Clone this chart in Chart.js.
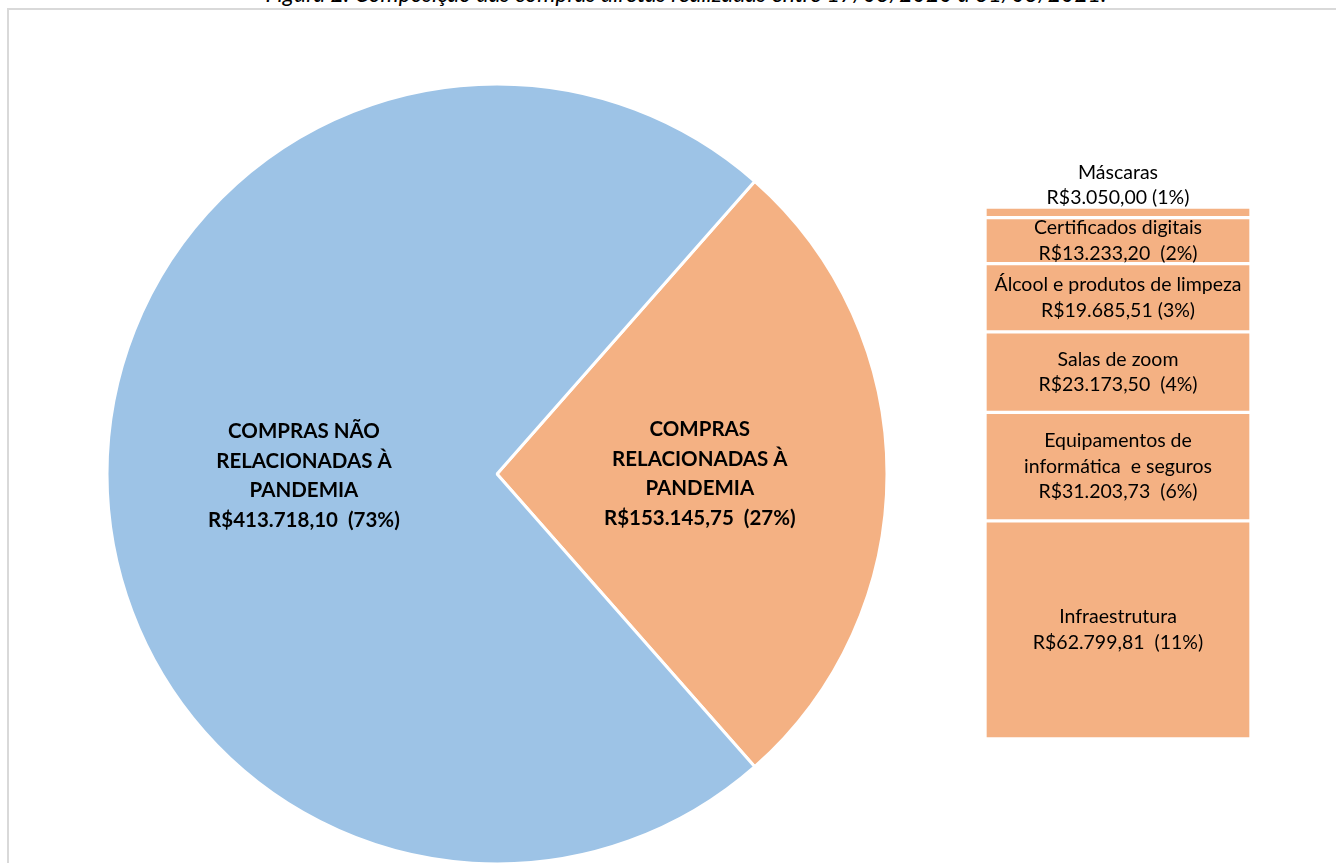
<!DOCTYPE html>
<html>
<head>
<meta charset="utf-8">
<script src="https://cdn.jsdelivr.net/npm/chart.js@4.4.1/dist/chart.umd.min.js"></script>
<style>
  html, body { margin:0; padding:0; width:1336px; height:863px; overflow:hidden; background:#fff; }
  #frame { position:absolute; left:7px; top:8px; width:1400px; height:900px; border-left:2px solid #d9d9d9; border-top:2px solid #d9d9d9; }
  #title { position:absolute; left:0; width:1372px; top:-19px; line-height:24px; text-align:center;
           font-family:Lato, "Open Sans", sans-serif; font-style:italic; font-size:23px; color:#000; white-space:nowrap; }
  canvas { position:absolute; }
  #pie { left:105px; top:82px; }
  #bar { left:960px; top:150px; }
</style>
</head>
<body>
<div id="frame"></div>
<div id="title">Figura 2. Composição das compras diretas realizadas entre 17/03/2020 a 31/03/2021.</div>
<canvas id="pie" width="784" height="784"></canvas>
<canvas id="bar" width="316" height="599"></canvas>
<script>
// ---- Data ----
const pieLabels = [["COMPRAS", "RELACIONADAS À", "PANDEMIA"], ["COMPRAS NÃO", "RELACIONADAS À", "PANDEMIA"]];
const pieValues = [153145.75, 413718.10];
const pieColors = ["#F4B183", "#9DC3E6"];

// bottom to top in the stacked bar
const barLabels = [["Infraestrutura"], ["Equipamentos de", "informática  e seguros"], ["Salas de zoom"],
                   ["Álcool e produtos de limpeza"], ["Certificados digitais"], ["Máscaras"]];
const barValues = [62799.81, 31203.73, 23173.50, 19685.51, 13233.20, 3050.00];
const barSeparators = ["  ", "  ", "  ", " ", "  ", " "];
const barColor = "#F4B183";

const FONT = "Lato, 'Open Sans', sans-serif";
const grandTotal = pieValues.reduce((a, b) => a + b, 0);

function brl(v) {
  const fixed = v.toFixed(2);
  let [intPart, dec] = fixed.split(".");
  intPart = intPart.replace(/\B(?=(\d{3})+(?!\d))/g, ".");
  return "R$" + intPart + "," + dec;
}
function pct(v) { return Math.round(v / grandTotal * 100) + "%"; }

// ---- Pie ----
const pieLabelPlugin = {
  id: "pieLabels",
  afterDatasetsDraw(chart) {
    const ctx = chart.ctx;
    const meta = chart.getDatasetMeta(0);
    const ratios = [0.52, 0.495];
    const dy = [0, 2];
    ctx.save();
    ctx.fillStyle = "#000";
    ctx.font = "bold 20.5px " + FONT;
    ctx.textAlign = "center";
    ctx.textBaseline = "middle";
    meta.data.forEach((arc, i) => {
      const p = arc.getProps(["x", "y", "startAngle", "endAngle", "outerRadius"]);
      const mid = (p.startAngle + p.endAngle) / 2;
      const r = p.outerRadius * ratios[i];
      const cx = p.x + Math.cos(mid) * r;
      const cy = p.y + Math.sin(mid) * r + dy[i];
      const lines = pieLabels[i].concat([brl(pieValues[i]) + "  (" + pct(pieValues[i]) + ")"]);
      const lh = 29.5;
      const y0 = cy - (lines.length - 1) * lh / 2;
      lines.forEach((t, k) => ctx.fillText(t, cx, y0 + k * lh));
    });
    ctx.restore();
  }
};

new Chart(document.getElementById("pie"), {
  type: "pie",
  data: {
    labels: pieLabels.map(l => l.join(" ")),
    datasets: [{
      data: pieValues,
      backgroundColor: pieColors,
      borderColor: "#ffffff",
      borderWidth: 3,
      radius: 390
    }]
  },
  options: {
    responsive: false,
    animation: false,
    rotation: 90 - 180 * pieValues[0] / grandTotal,
    layout: { padding: 0 },
    plugins: { legend: { display: false }, tooltip: { enabled: false }, title: { display: false } }
  },
  plugins: [pieLabelPlugin]
});

// ---- Stacked bar ----
const barTotal = barValues.reduce((a, b) => a + b, 0);
const barLabelPlugin = {
  id: "barLabels",
  afterDatasetsDraw(chart) {
    const ctx = chart.ctx;
    ctx.save();
    ctx.fillStyle = "#000";
    ctx.font = "19.5px " + FONT;
    ctx.textAlign = "center";
    ctx.textBaseline = "middle";
    const lh = 25.5;
    barValues.forEach((v, i) => {
      const el = chart.getDatasetMeta(i).data[0];
      const lines = barLabels[i].concat([brl(v) + barSeparators[i] + "(" + pct(v) + ")"]);
      const cx = el.x;
      let y0;
      if (i === barValues.length - 1) {
        // smallest slice: label above the bar
        y0 = el.y - 9 - (lines.length - 1) * lh;
      } else {
        const cy = (el.y + el.base) / 2;
        y0 = cy - (lines.length - 1) * lh / 2;
      }
      lines.forEach((t, k) => ctx.fillText(t, cx, y0 + k * lh));
    });
    ctx.restore();
  }
};

new Chart(document.getElementById("bar"), {
  type: "bar",
  data: {
    labels: [""],
    datasets: barValues.map((v, i) => ({
      label: barLabels[i].join(" "),
      data: [v],
      backgroundColor: barColor,
      borderColor: "#ffffff",
      borderWidth: 2,
      borderSkipped: false,
      barPercentage: 1,
      categoryPercentage: 1
    }))
  },
  options: {
    responsive: false,
    animation: false,
    layout: { padding: { left: 25, right: 25, top: 57, bottom: 10 } },
    scales: {
      x: { stacked: true, display: false },
      y: { stacked: true, display: false, min: 0, max: barTotal }
    },
    plugins: { legend: { display: false }, tooltip: { enabled: false }, title: { display: false } }
  },
  plugins: [barLabelPlugin]
});
</script>
</body>
</html>
